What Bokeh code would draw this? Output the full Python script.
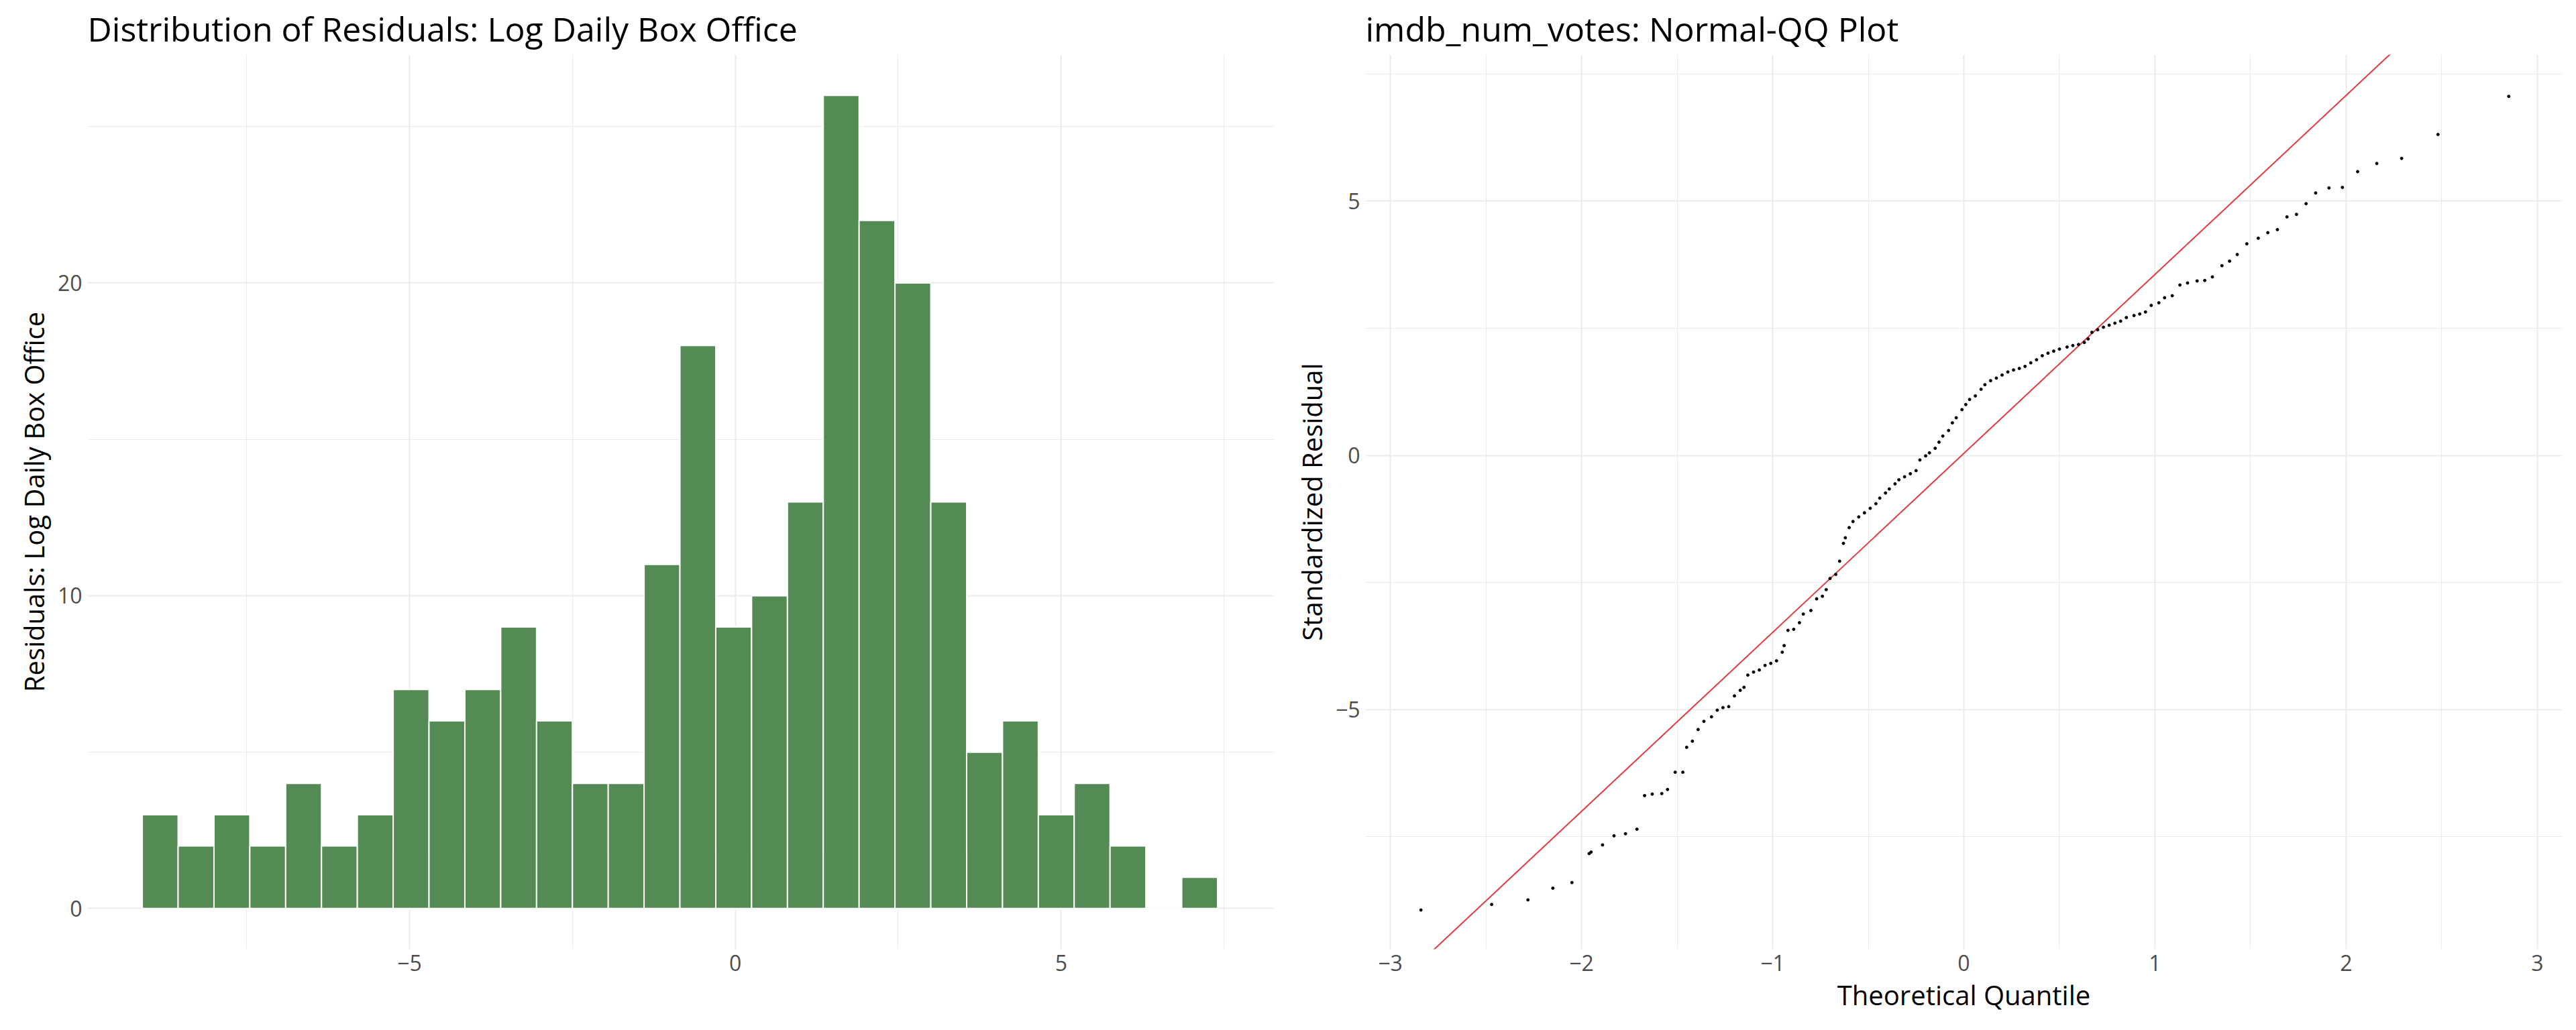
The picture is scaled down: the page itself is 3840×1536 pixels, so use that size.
from bokeh.embed import file_html
from bokeh.resources import INLINE
from bokeh.layouts import row
from bokeh.models import FixedTicker, Range1d
from bokeh.plotting import figure

# histogram of residuals
bin_start = -9.1
bin_width = 0.55
counts = [3, 2, 3, 2, 4, 2, 3, 7, 6, 7, 9, 6, 4, 4, 11, 18, 9, 10, 13, 26,
          22, 20, 13, 5, 6, 3, 4, 2, 0, 1]

# normal QQ points (theoretical, standardized residual)
qq_x = [-2.84, -2.47, -2.28, -2.15, -2.05, -1.96, -1.95, -1.89, -1.83, -1.77, -1.71,
        -1.67, -1.63, -1.58, -1.55, -1.51, -1.47, -1.45, -1.42, -1.39, -1.36, -1.32,
        -1.29, -1.26, -1.23, -1.20, -1.17, -1.15, -1.13, -1.10, -1.07, -1.04, -1.01,
        -0.98, -0.95, -0.94, -0.92, -0.89, -0.86, -0.84, -0.80, -0.77, -0.74, -0.72,
        -0.70, -0.67, -0.65, -0.63, -0.62, -0.60, -0.58, -0.55, -0.52, -0.49, -0.46,
        -0.44, -0.41, -0.39, -0.36, -0.34, -0.31, -0.28, -0.25, -0.23, -0.20, -0.18,
        -0.15, -0.13, -0.11, -0.08, -0.06, -0.04, -0.01, 0.01, 0.03, 0.06, 0.09,
        0.11, 0.14, 0.17, 0.20, 0.23, 0.26, 0.29, 0.32, 0.35, 0.38, 0.41, 0.44,
        0.47, 0.50, 0.54, 0.57, 0.60, 0.63, 0.65, 0.67, 0.70, 0.73, 0.76, 0.79,
        0.82, 0.85, 0.89, 0.92, 0.95, 0.98, 1.02, 1.05, 1.09, 1.13, 1.17, 1.22,
        1.26, 1.30, 1.35, 1.39, 1.43, 1.48, 1.54, 1.59, 1.64, 1.69, 1.74, 1.79,
        1.84, 1.91, 1.98, 2.06, 2.16, 2.29, 2.48, 2.85]
qq_y = [-8.94, -8.83, -8.74, -8.51, -8.40, -7.83, -7.80, -7.66, -7.48, -7.44, -7.35,
        -6.69, -6.66, -6.65, -6.57, -6.23, -6.23, -5.74, -5.62, -5.39, -5.23, -5.14,
        -5.01, -4.96, -4.94, -4.73, -4.62, -4.56, -4.32, -4.26, -4.22, -4.13, -4.09,
        -4.04, -3.87, -3.74, -3.44, -3.42, -3.29, -3.12, -3.05, -2.82, -2.77, -2.64,
        -2.42, -2.34, -2.08, -1.73, -1.62, -1.42, -1.30, -1.21, -1.13, -1.04, -0.95,
        -0.84, -0.74, -0.66, -0.56, -0.48, -0.42, -0.36, -0.30, -0.09, -0.01, 0.05,
        0.14, 0.26, 0.38, 0.49, 0.64, 0.74, 0.90, 1.00, 1.10, 1.17, 1.30,
        1.39, 1.47, 1.52, 1.58, 1.64, 1.68, 1.71, 1.75, 1.82, 1.88, 1.96, 2.01,
        2.05, 2.09, 2.13, 2.16, 2.18, 2.22, 2.29, 2.42, 2.47, 2.52, 2.56, 2.60,
        2.64, 2.71, 2.75, 2.78, 2.82, 2.95, 3.00, 3.10, 3.14, 3.35, 3.39, 3.43,
        3.44, 3.51, 3.73, 3.82, 3.95, 4.16, 4.27, 4.38, 4.44, 4.69, 4.74, 4.95,
        5.16, 5.26, 5.27, 5.58, 5.74, 5.84, 6.31, 7.06]
qq_slope = 3.52
qq_intercept = 0.04

FONT = "Open Sans"
GRID = "#ebebeb"


def style(p):
    p.title.text_font = FONT
    p.title.text_font_size = "50px"
    p.title.text_font_style = "normal"
    p.title.text_color = "black"
    for ax in (p.xaxis, p.yaxis):
        ax.axis_line_color = None
        ax.major_tick_line_color = None
        ax.minor_tick_line_color = None
        ax.major_tick_out = 0
        ax.minor_tick_out = 0
        ax.major_label_standoff = 8
        ax.major_label_text_font = FONT
        ax.major_label_text_font_size = "32px"
        ax.major_label_text_color = "#4d4d4d"
        ax.axis_label_text_font = FONT
        ax.axis_label_text_font_size = "40px"
        ax.axis_label_text_font_style = "normal"
        ax.axis_label_text_color = "black"
    p.grid.grid_line_color = GRID
    p.grid.grid_line_width = 2
    p.grid.minor_grid_line_color = GRID
    p.grid.minor_grid_line_width = 1
    p.outline_line_color = None


# left: histogram
p1 = figure(width=1912, height=1520, output_backend="svg", toolbar_location=None,
            title="Distribution of Residuals: Log Daily Box Office",
            x_range=Range1d(-9.94, 8.27), y_range=Range1d(-1.3, 27.3),
            min_border_left=130, min_border_right=13, min_border_top=81,
            min_border_bottom=0)
lefts = [bin_start + i * bin_width for i in range(len(counts))]
rights = [l + bin_width for l in lefts]
p1.quad(left=lefts, right=rights, bottom=0, top=counts,
        fill_color="#548b54", line_color="white", line_width=2)
p1.xaxis.ticker = FixedTicker(ticks=[-5, 0, 5], minor_ticks=[-7.5, -2.5, 2.5, 7.5])
p1.yaxis.ticker = FixedTicker(ticks=[0, 10, 20], minor_ticks=[5, 15, 25])
p1.yaxis.axis_label = "Residuals: Log Daily Box Office"
style(p1)

# right: QQ plot
p2 = figure(width=1912, height=1520, output_backend="svg", toolbar_location=None,
            title="imdb_num_votes: Normal-QQ Plot",
            x_range=Range1d(-3.13, 3.13), y_range=Range1d(-9.71, 7.88),
            min_border_left=123, min_border_right=5, min_border_top=81,
            min_border_bottom=105)
lx = [-4, 4]
p2.line(lx, [qq_slope * v + qq_intercept for v in lx], line_color="#e0393e", line_width=2)
p2.scatter(qq_x, qq_y, size=4, color="black")
p2.xaxis.ticker = FixedTicker(ticks=[-3, -2, -1, 0, 1, 2, 3],
                              minor_ticks=[-2.5, -1.5, -0.5, 0.5, 1.5, 2.5])
p2.yaxis.ticker = FixedTicker(ticks=[-5, 0, 5], minor_ticks=[-7.5, -2.5, 2.5, 7.5])
p2.xaxis.axis_label = "Theoretical Quantile"
p2.yaxis.axis_label = "Standardized Residual"
style(p2)

layout = row(p1, p2)
open("out.html", "w").write(file_html(layout, INLINE))
